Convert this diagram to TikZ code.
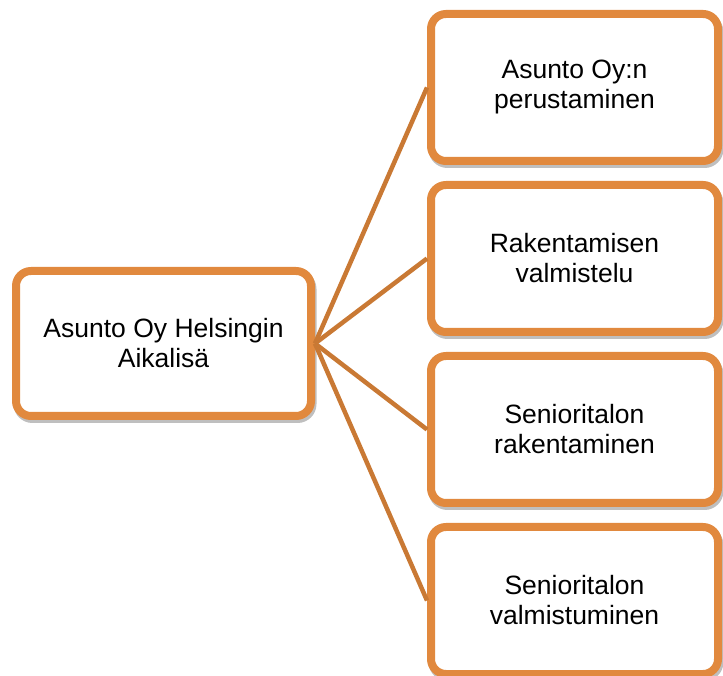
\documentclass[tikz,border=0pt]{standalone}
\usepackage{fontspec}
\setmainfont{Liberation Sans}
\usepackage{xcolor}
\usepackage{tikz}
\usetikzlibrary{shapes,shadows,calc}
\definecolor{boxOrange}{RGB}{225,137,62}
\definecolor{linkOrange}{RGB}{201,121,52}
\tikzstyle{tsText} = [ 
    text=black, 
    font=\fontsize{26.5}{30}\selectfont
]
\tikzstyle{tsWraptext} = [ 
    tsText, 
    text centered, 
    align=center
]
\tikzstyle{tsBox} = [ 
    rectangle,
    rounded corners=15pt,
    tsWraptext,
    draw=boxOrange,
    fill=white,
    line width=8pt,
    drop shadow={shadow xshift=1.5pt, shadow yshift=-3pt, opacity=0.25,
                 fill=black, draw=black, line width=8pt}
]
\tikzstyle{tsLink} = [ 
    draw=linkOrange,
    line width=4.5pt
]

\begin{document}
\begin{tikzpicture}[x=1pt, y=1pt]

        \useasboundingbox (0,0) rectangle (723,675);

        \node[  tsBox, 
                minimum width=295pt,
                minimum height=145pt] (aikalisa) at (163.5,331.5) {Asunto Oy Helsingin\\Aikalisä};

        % vaiheet
        \node[tsBox, minimum width=287pt, minimum height=147pt] (perustaminen) at (574.5,587.5) {Asunto Oy:n\\perustaminen};
        \node[tsBox, minimum width=287pt, minimum height=147pt] (valmistelu) at (574.5,416.5) {Rakentamisen\\valmistelu};
        \node[tsBox, minimum width=287pt, minimum height=147pt] (rakentaminen) at (574.5,245.5) {Senioritalon\\rakentaminen};
        \node[tsBox, minimum width=287pt, minimum height=147pt] (valmistuminen) at (574.5,74.5) {Senioritalon\\valmistuminen};

        \draw[tsLink] (aikalisa.east) -- (perustaminen.west);
        \draw[tsLink] (aikalisa.east) -- (valmistelu.west);
        \draw[tsLink] (aikalisa.east) -- (rakentaminen.west);
        \draw[tsLink] (aikalisa.east) -- (valmistuminen.west);

\end{tikzpicture}
\end{document}
